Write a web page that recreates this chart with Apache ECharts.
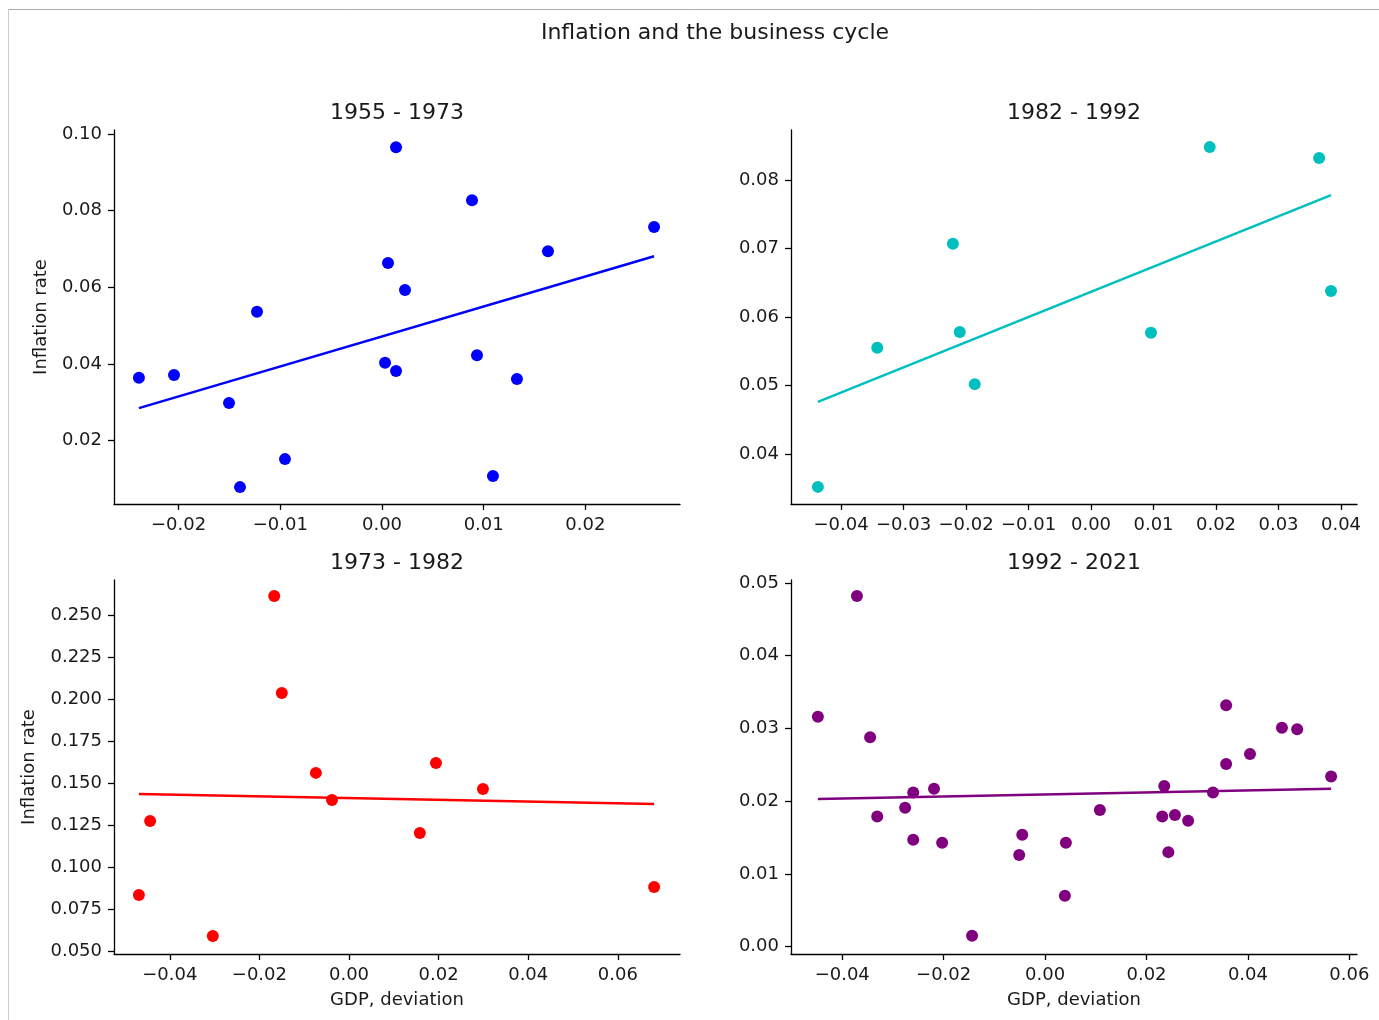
<!DOCTYPE html>
<html>
<head>
<meta charset="utf-8">
<script src="https://cdn.jsdelivr.net/npm/echarts@6/dist/echarts.min.js"></script>
<style>
html,body{margin:0;padding:0;background:#fff;}
#chart{width:1379px;height:1020px;}
</style>
</head>
<body>
<div id="chart"></div>
<script>
// ---- Data ----
const mainTitle = "Inflation and the business cycle";
const panelTitles = ["1955 - 1973", "1982 - 1992", "1973 - 1982", "1992 - 2021"];
const yName = "Inflation rate";
const xName = "GDP, deviation";

// 1955 - 1973
const gdp1 = [-0.0239, -0.02045, -0.01504, -0.01229, -0.01396, -0.00954, 0.00138, 0.00059, 0.00226, 0.0003, 0.00138, 0.00885, 0.00934, 0.01091, 0.01327, 0.01632, 0.02675];
const inf1 = [0.0364, 0.0371, 0.0298, 0.0536, 0.0079, 0.0152, 0.0965, 0.0663, 0.0593, 0.0403, 0.0382, 0.0827, 0.0423, 0.0108, 0.0361, 0.0694, 0.0757];
const fitX1 = [-0.0239, 0.02675];
const fitY1 = [0.0285, 0.0681];

// 1982 - 1992
const gdp2 = [-0.0437, -0.0342, -0.0221, -0.0210, -0.0186, 0.0096, 0.0190, 0.0365, 0.0384];
const inf2 = [0.0352, 0.0555, 0.0707, 0.0578, 0.0502, 0.0577, 0.0848, 0.0832, 0.0638];
const fitX2 = [-0.0437, 0.0384];
const fitY2 = [0.0476, 0.0778];

// 1973 - 1982
const gdp3 = [-0.0469, -0.0444, -0.0304, -0.0167, -0.0150, -0.0074, -0.0038, 0.0158, 0.0194, 0.0299, 0.0681];
const inf3 = [0.0833, 0.1274, 0.0589, 0.2613, 0.2036, 0.1560, 0.1399, 0.1202, 0.1619, 0.1464, 0.0881];
const fitX3 = [-0.0469, 0.0681];
const fitY3 = [0.1435, 0.1375];

// 1992 - 2021
const gdp4 = [-0.0448, -0.0371, -0.0345, -0.0331, -0.0276, -0.0260, -0.0260, -0.0219, -0.0203, -0.0144, -0.0051, -0.0045, 0.0041, 0.0039, 0.0108, 0.0231, 0.0235, 0.0243, 0.0256, 0.0282, 0.0331, 0.0357, 0.0357, 0.0404, 0.0467, 0.0497, 0.0564];
const inf4 = [0.0316, 0.0482, 0.0288, 0.0179, 0.0191, 0.0212, 0.0147, 0.0217, 0.0143, 0.0015, 0.0126, 0.0154, 0.0143, 0.0070, 0.0188, 0.0179, 0.0221, 0.0130, 0.0181, 0.0173, 0.0212, 0.0332, 0.0251, 0.0265, 0.0301, 0.0299, 0.0234];
const fitX4 = [-0.0448, 0.0564];
const fitY4 = [0.0203, 0.0217];

// tick labels
const xTicks1 = [-0.02, -0.01, 0.00, 0.01, 0.02];
const yTicks1 = [0.02, 0.04, 0.06, 0.08, 0.10];
const xTicks2 = [-0.04, -0.03, -0.02, -0.01, 0.00, 0.01, 0.02, 0.03, 0.04];
const yTicks2 = [0.04, 0.05, 0.06, 0.07, 0.08];
const xTicks3 = [-0.04, -0.02, 0.00, 0.02, 0.04, 0.06];
const yTicks3 = [0.050, 0.075, 0.100, 0.125, 0.150, 0.175, 0.200, 0.225, 0.250];
const xTicks4 = [-0.04, -0.02, 0.00, 0.02, 0.04, 0.06];
const yTicks4 = [0.00, 0.01, 0.02, 0.03, 0.04, 0.05];

const colors = ["#0000ff", "#00bfbf", "#ff0000", "#800080"];

// ---- Layout ----
const FONT = "DejaVu Sans";
const grids = [
  {left: 114, top: 130, width: 566, height: 374},
  {left: 791, top: 130, width: 566, height: 374},
  {left: 114, top: 580, width: 566, height: 374},
  {left: 791, top: 580, width: 566, height: 374}
];
const xRanges = [[-0.02635, 0.0293], [-0.048, 0.04256], [-0.05246, 0.07388], [-0.0501, 0.0615]];
const yRanges = [[0.0035, 0.101], [0.0327, 0.0873], [0.0482, 0.2708], [-0.001, 0.0504]];
const xTickSets = [xTicks1, xTicks2, xTicks3, xTicks4];
const yTickSets = [yTicks1, yTicks2, yTicks3, yTicks4];
const yDecimals = [2, 2, 3, 2];
const scat = [[gdp1, inf1], [gdp2, inf2], [gdp3, inf3], [gdp4, inf4]];
const fits = [[fitX1, fitY1], [fitX2, fitY2], [fitX3, fitY3], [fitX4, fitY4]];

function fmt(d) {
  return function (v) { return Number(v).toFixed(d).replace('-', '\u2212'); };
}
function axisCommon(ticks, dec) {
  return {
    axisLine: {show: true, onZero: false, lineStyle: {color: '#000', width: 1.3}},
    axisTick: {show: true, length: 6, inside: false, lineStyle: {color: '#000', width: 1.3}, customValues: ticks},
    axisLabel: {show: true, color: '#1a1a1a', fontFamily: FONT, fontSize: 18, margin: 12, formatter: fmt(dec), customValues: ticks},
    splitLine: {show: false}
  };
}

const xAxes = [], yAxes = [], series = [], titles = [];
titles.push({text: mainTitle, left: 710, top: 17, textAlign: 'center',
  textStyle: {fontFamily: FONT, fontSize: 22, fontWeight: 'normal', color: '#1a1a1a'}});
for (let i = 0; i < 4; i++) {
  const g = grids[i];
  titles.push({text: panelTitles[i], left: g.left + g.width / 2 - 5, top: g.top - 33, textAlign: 'center',
    textStyle: {fontFamily: FONT, fontSize: 22, fontWeight: 'normal', color: '#1a1a1a'}});
  const xa = Object.assign({type: 'value', gridIndex: i, min: xRanges[i][0], max: xRanges[i][1]}, axisCommon(xTickSets[i], 2));
  if (i >= 2) {
    xa.name = xName; xa.nameLocation = 'middle'; xa.nameGap = 37;
    xa.nameTextStyle = {fontFamily: FONT, fontSize: 18, color: '#1a1a1a'};
  }
  xAxes.push(xa);
  const ya = Object.assign({type: 'value', gridIndex: i, min: yRanges[i][0], max: yRanges[i][1]}, axisCommon(yTickSets[i], yDecimals[i]));
  if (i === 0 || i === 2) {
    ya.name = yName; ya.nameLocation = 'middle'; ya.nameRotate = 90;
    ya.nameGap = (i === 0) ? 64 : 76;
    ya.nameTextStyle = {fontFamily: FONT, fontSize: 18, color: '#1a1a1a'};
  }
  yAxes.push(ya);
  const pts = scat[i][0].map((x, k) => [x, scat[i][1][k]]);
  series.push({type: 'scatter', xAxisIndex: i, yAxisIndex: i, data: pts, symbolSize: 12,
    itemStyle: {color: colors[i], opacity: 1}, silent: true, z: 3});
  const fl = fits[i][0].map((x, k) => [x, fits[i][1][k]]);
  series.push({type: 'line', xAxisIndex: i, yAxisIndex: i, data: fl, showSymbol: false, symbol: 'none',
    lineStyle: {color: colors[i], width: 2.5}, silent: true, z: 2});
}

const chart = echarts.init(document.getElementById('chart'), null, {renderer: 'canvas'});
chart.setOption({
  backgroundColor: '#fff',
  animation: false,
  title: titles,
  grid: grids,
  xAxis: xAxes,
  yAxis: yAxes,
  series: series,
  graphic: [
    {type: 'line', shape: {x1: 8, y1: 9.5, x2: 1379, y2: 9.5}, style: {stroke: '#aaaaaa', lineWidth: 1}, silent: true},
    {type: 'line', shape: {x1: 8.5, y1: 9, x2: 8.5, y2: 1020}, style: {stroke: '#cccccc', lineWidth: 1}, silent: true}
  ]
});
</script>
</body>
</html>
